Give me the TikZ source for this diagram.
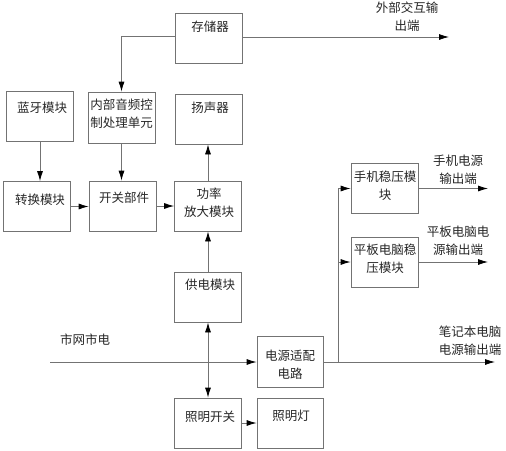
\documentclass[tikz,border=0pt]{standalone}
\usepackage{fontspec}
\setmainfont{Noto Sans CJK SC}
\usetikzlibrary{arrows.meta,calc}
\begin{document}
\begin{tikzpicture}[x=1pt,y=-1pt,
  box/.style={draw=black!55,line width=0.8pt,minimum width=67pt,minimum height=50pt,inner sep=0pt},
  txt/.style={align=center,inner sep=0pt,text=black!85,font=\fontsize{12.5}{18}\selectfont},
  conn/.style={draw=black!55,line width=0.8pt,-{Latex[length=10pt,width=6pt,color=black]}},
  dconn/.style={draw=black!55,line width=0.8pt,{Latex[length=10pt,width=6pt,color=black]}-{Latex[length=10pt,width=6pt,color=black]}}]
\useasboundingbox (0,0) rectangle (506,450);
% boxes
\node[box] (mem) at (208.5,38) {};
\node[box] (bt) at (40,116) {};
\node[box,minimum height=51pt] (inner) at (121.5,117.5) {};
\node[box] (spk) at (208.5,119) {};
\node[box] (conv) at (36.5,206.5) {};
\node[box] (sw) at (122.5,206) {};
\node[box] (amp) at (208,206) {};
\node[box] (psu) at (208,297) {};
\node[box] (phone) at (384.5,188.5) {};
\node[box] (tablet) at (384.5,262) {};
\node[box,minimum width=66pt,minimum height=51pt] (adapt) at (290,362) {};
\node[box] (lsw) at (208,423) {};
\node[box,minimum width=66pt] (lamp) at (290,423) {};
% box texts
\node[txt] (tmem) at (210,27) {存储器};
\node[txt] (tbt) at (42,108) {蓝牙模块};
\node[txt] (tinner) at (121.5,114) {内部音频控\\制处理单元};
\node[txt] (tspk) at (210,108) {扬声器};
\node[txt] (tconv) at (40,200) {转换模块};
\node[txt] (tsw) at (124,198) {开关部件};
\node[txt] (tamp) at (209,203) {功率\\放大模块};
\node[txt] (tpsu) at (210,285) {供电模块};
\node[txt] (tphone) at (385,185.5) {手机稳压模\\块};
\node[txt] (ttablet) at (385,259) {平板电脑稳\\压模块};
\node[txt] (tadapt) at (290,364.5) {电源适配\\电路};
\node[txt] (tlsw) at (210,417) {照明开关};
\node[txt] (tlamp) at (291,416) {照明灯};
% free labels
\node[txt] (lout) at (407,16.5) {外部交互输\\出端};
\node[txt] (lphone) at (458,169.5) {手机电源\\输出端};
\node[txt] (ltablet) at (458,241) {平板电脑电\\源输出端};
\node[txt] (llaptop) at (470,341) {笔记本电脑\\电源输出端};
\node[txt] (lmains) at (85,340) {市网市电};
% coordinates
\coordinate (oute) at (449,37);
\coordinate (outp) at (488,188.5);
\coordinate (outt) at (488,262);
\coordinate (outl) at (495,362);
\coordinate (mains) at (50,362);
\coordinate (j) at (338,362);
% connectors
\draw[conn] (mem.west |- 0,36) -| (inner.north);
\draw[conn] (mem.east |- oute) -- (oute);
\draw[conn] (bt.south) -- (bt.south |- conv.north);
\draw[conn] (inner.south) -- (inner.south |- sw.north);
\draw[conn] (conv.east) -- (sw.west |- conv.east);
\draw[conn] (sw.east) -- (amp.west |- sw.east);
\draw[conn] (amp.north) -- (spk.south -| amp.north);
\draw[conn] (psu.north) -- (amp.south);
\draw[dconn] (psu.south) -- (lsw.north);
\draw[conn] (lsw.east) -- (lamp.west);
\draw[conn] (mains) -- (adapt.west);
\draw[conn] (adapt.east) -- (outl);
\draw[conn] (j) |- (phone.west);
\draw[conn] (j) |- (tablet.west);
\draw[conn] (phone.east) -- (outp);
\draw[conn] (tablet.east) -- (outt);
\end{tikzpicture}
\end{document}
